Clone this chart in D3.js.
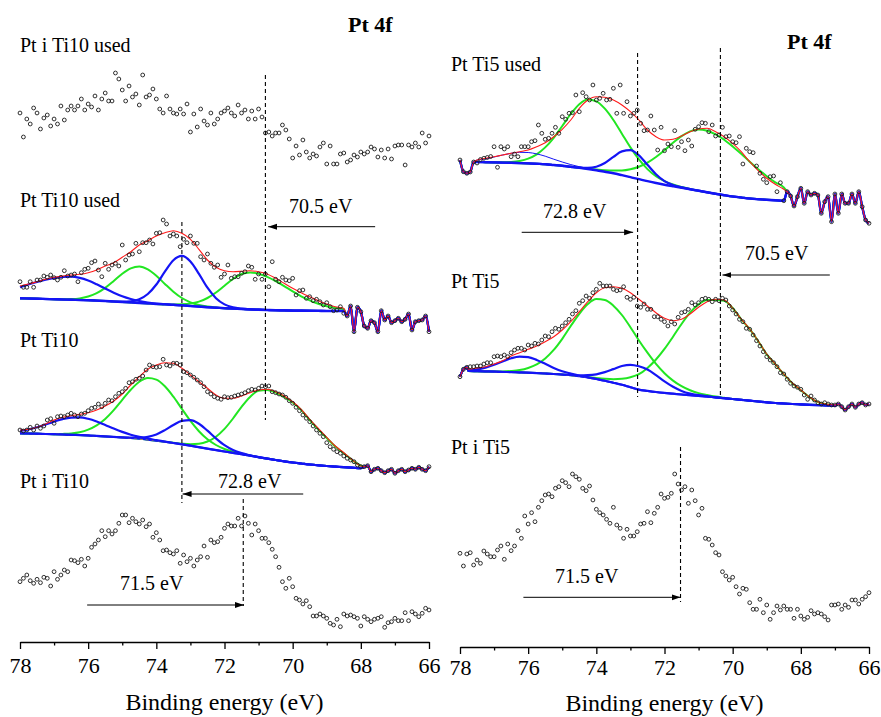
<!DOCTYPE html>
<html><head><meta charset="utf-8">
<script src="https://cdn.jsdelivr.net/npm/d3@7"></script>
<style>body{margin:0;background:#fff}svg{display:block}text{font-family:"Liberation Serif","Times New Roman",serif;fill:#000}</style>
</head><body><svg id="c" width="881" height="717"></svg>
<script>
// ---------------- DATA ----------------
const E0 = 78, dE = 0.1;           // acquisition grid (eV), 121 points 78 -> 66
const fitStep = 0.25;              // grid of fitted curves (eV)
const xTicks = [78,76,74,72,70,68,66];
const xMinor = [77,75,73,71,69,67];
const axisTitle = "Binding energy (eV)";
const coreLevel = "Pt 4f";
const panelLabels = ["Pt i Ti10 used","Pt Ti10 used","Pt Ti10","Pt i Ti10","Pt Ti5 used","Pt Ti5","Pt i Ti5"];
const refLineEV = [70.8, 73.25, 71.45, 72.79, 70.36, 71.53];
const shiftLabels = ["70.5 eV","72.8 eV","71.5 eV","72.8 eV","70.5 eV","71.5 eV"];
const arrowFromEV = [67.58, 69.69, 76.03, 76.19, 67.15, 76.14];
const arrowToEV = [70.72, 73.23, 71.43, 72.92, 70.30, 71.53];

// measured spectra (a.u.)
const spPtiTi10used = [62,38,56,51,67,62,46,57,60,49, 56,51,69,55,65,69,65,69,76,65, 71,68,79,65,76,82,74,74,102,96, 85,74,89,78,81,70,100,78,80,86, 76,66,62,79,66,62,61,66,61,71, 43,61,48,66,54,50,62,51,56,62, 64,67,62,59,70,62,65,56,64,56, 66,58,42,43,39,42,42,50,45,36, 17,29,20,35,23,17,21,19,28,32, 11,29,11,11,21,22,13,15,20,18, 23,21,23,28,26,18,25,17,26,16, 29,30,30,10,30,28,32,28,42,32, 39];
const spPtTi10used = [53.3,47.7,47.7,53.3,47.7,55,55,59,57.7,60, 57.3,55,57.7,64.3,59,60,61,53.3,62.3,65.7, 66.7,72.3,74,65,58.3,71.7,65.7,70,71.7,69, 90,75,80,81,91.7,83.3,92.3,92.3,95,91, 101.7,102.3,115,111,99,101,99,88.3,95.7,92.3, 99,91.7,91.7,78.3,75,81,71.7,67.7,70,57.7, 61,70,56.7,58.3,58.3,61.7,63.3,69,67.7,55.7, 61,55.7,61,48.3,73.3,55.7,53.3,57.7,55,54.3, 56.7,40,44.3,45,36.7,38.3,34.3,35.7,33.3,30, 32.3,28.3,24.3,25,28.3, 21.7,19,29,3.3,27.7,23.3,9,6.7,14.3,12.3, 3.3,24.3,15,19,12.3,14.3,16.7,13.3,15.7,21, 5,13.3,14.3,15,19,3.3];
const spPtTi10 = [50,49,50,52.7,50,54,51.7,54,60,61.3, 56.7,63.3,64,63.3,65,66.7,65,63.3,66,66.7, 69.3,71.7,72.7,76,73.3,76.7,80,79.3,83.3,86.7, 88.3,91.7,97.3,98.3,100.7,101.7,104,110,115,113.3, 112.7,113.3,120.7,115,114,116.7,116.7,115,108.3,107.3, 105,102.7,100,97.3,93.3,88.3,86,83.3,81.7,80.7, 83.3,82.3,82.7,84,85,86,87.3,89.3,90.7,90, 91.7,94,93.3,94,88.3,87.3,86,85,82.7,79.3, 76.7,72.7,69.3,65,61.7,58.3,54,50,46.7,43.3, 37.3,33.3,30.7,28.3,26.7,24,21.7,20,18.3,15, 13.3,13.3,14.3, 8.3,10.7,11.7,9.3,7.3,9.3,10.7,6.7,9.3,10.7, 8.3,10,11.7,10.7,12.7,10.7,9.3,13.3];
const spPtiTi10 = [58.3,61.7,65,59.3,56.7,60.7,57.3,62.7,61.7,54, 68.3,60.7,65,70,68.3,80,79.3,77.3,80.7,74, 81.7,92.7,96,100,109.3,103.3,109.3,106,109.3,116.7, 125,125,117.3,121.7,118.3,116,120,113.3,116,102.7, 107.3,100,89.3,90,87.3,86,89.3,76.7,85,78.3, 81.7,74,80,83.3,94,82.7,100,97.3,98.3,102.7, 111.7,116,114,114,121.7,114,124,116.7,105,116, 109.3,101.7,101.7,97.3,90.7,83.3,72.7,58.3,51.7,61.7, 53.3,41.7,40,36,39.3,33.3,24,24,26,24, 21.7,16.7,15,20.7,13.3,26,24,25,23.3,21.7, 14,23.3,20.7,18.3,20.7,21.7,23.3,12.7,17.3,18.3, 21.7,19.3,19.3,27.3,19.3,28.3,26,23.3,26.7,31.7, 30];
const spPtTi5used = [70,58.3,56.7,58,68,67,70.5,71.7,72.5,73.5, 83.3,62.7,83.3,81,83.3,73.3,76,73.3,83.3,83.3, 83.3,88.3,89.3,105,96.7,90.7,91.7,96.7,102.7,96.7, 113.3,110.7,116.7,117.3,135,118.3,137.3,133.3,130,145, 130,131.7,136.7,130,130.7,141.7,116.7,145,116.7,128.3, 114,116.7,120,106.7,99.3,100,114,100,80,102.7, 79.3,86,83.3,99.3,82.7,88.3,79.3,90,84,100.7, 103.3,107.3,106.7,98.3,105,94,95,102.7,93.3,94, 88.3,87.3,93.3,66,81.7,78.3,77.3,64,56.7,50.7, 47.3,53.3,54,38.3,47.3, 29.3,38.3,34,24,33.3,41.7,26.7,38.3,35,36.7, 35,16.7,28.3,33.3,8.3,36,16.7,36,26.7,26.7, 36,26.7,38.3,23.3,10,6.7];
const spPtTi5 = [43.3,50.7,52.7,53.3,53.3,54,54,56,57.3,57.3, 63.3,64,63.3,65,63.3,67.3,70,71.7,71.7,70, 75,74,76.7,76,80,84,83.3,88.3,91.7,90.7, 94,97.3,100.7,106,109.3,116.7,119.3,124,121.7,127.3, 130.7,136.7,134,134,134,130.7,129.3,130,133.3,122.7, 120.7,122.7,114,112.7,116,110.7,110.7,103.3,103.3,100.7, 98.3,94,98.3,96,102.7,107.3,108.3,110.7,117.3,115, 117.3,120.7,121.7,120.7,118.3,120.7,119.3,121.7,120,114, 110,106,100.7,98.3,91.7,90.7,85,79.3,74,68.3, 63.3,60,57.3,53.3,47.3,46,40.7,36.7,34,32.7, 30.7,25,20.7,24,20,17.3,16,17.3,16,15, 15,16,13.3,10,13.3,16,12.7,16,17.3,15, 16];
const spPtiTi5 = [86.7,74,86,87.3,75,80,76.7,89,86,83.3, 83.3,90,94,80.7,96,89.3,94,109.3,101.7,124, 116,127.3,118.3,132.7,139.3,145,146,143.3,151.7,153.3, 159.3,157.3,153.3,166,163.3,160.7,151.7,149.3,154,140, 130.7,127.3,125,120.7,116.7,132.7,115,111.7,101.7,110.7, 104,104,108.3,116,116.7,128.3,117.3,126.7,132.7,146, 141.7,142.7,146.7,166,156,150,153.3,136.7,150,139.3, 125,131.7,101.7,100.7,95,87.3,85,68.3,64,60, 62.7,53.3,46,51.7,50.7,37.3,30.7,30.7,40.7,27.3, 35,20.7,27.3,34,30,34,30.7,30.7,21.7,30.7, 24,20.7,22.7,29.3,26,27.3,26,23.3,20,35, 35,36,30.7,35,32.7,40,40,36,40.7,43.3, 47.3];

// fitted curves: Pt Ti10 used (grid from 78 eV)
const bgTi10used = [36.7,36.5,36.3,36.0,35.8,35.5,35.3,35.0,34.8,34.4,34.0,33.5,33.0,32.5,32.0,31.5,31.0,30.6,30.2,29.6,29.0,28.4,27.8,27.3,26.8,26.4,26.0,25.6,25.3,25.0,24.8,24.6,24.4,24.3,24.2,24.1,24.0,24.0,24.0];
const b1Ti10used = [11.2,14.0,16.7,19.2,21.2,22.5,23,22.1,19.7,16.3,12.4,8.8,5.7,3.5,2.0,1.0,0.5,0.2,0,0,0,0,0,0,0,0,0,0,0,0,0,0,0,0,0,0,0,0,0];
const g1Ti10used = [0,0,0,0,0,0.2,0.6,1.6,3.7,7.4,13.1,20.5,28.3,34.2,36.5,34.2,28.3,20.5,13.1,7.4,3.7,1.6,0.6,0.2,0,0,0,0,0,0,0,0,0,0,0,0,0,0,0];
const b2Ti10used = [0,0,0,0,0,0,0,0,0,0,0,0,0.3,1.2,3.8,9.5,19.5,32.8,44.6,49.5,44.6,32.8,19.5,9.5,3.8,1.2,0.3,0,0,0,0,0,0,0,0,0,0,0,0];
const g2Ti10used = [0,0,0,0,0,0,0,0,0,0,0,0,0,0,0,0,0,0,0.4,1.1,2.4,5.0,9.2,15.2,22.5,29.6,35.0,37,36.0,33.2,29.2,24.3,19.2,14.4,10.4,7.1,4.7,2.9,1.8];
const envTi10used = [49,51,53.3,55.7,57.7,59,60,60.7,62.3,65,69,72.3,77.7,83.3,90,94.3,99,102.3,104.3,101.7,95.7,85.7,75,67.7,64.3,63.3,63.7,64.3,63.3,61,56.7,51.7,46.7,42.3,38.3,34.3,31,28.3,26.7];
// Pt Ti10 (grid from 78 eV)
const bgTi10 = [46.7,46.5,46.3,46.0,45.8,45.5,45.2,44.9,44.6,44.1,43.6,43.1,42.6,41.9,41.2,40.3,39.3,38.2,37.0,35.7,34.3,32.8,31.3,29.9,28.5,27.1,25.8,24.3,22.8,21.4,20.0,18.7,17.5,16.5,15.5,14.7,14.0,13.4,12.8,12.3,11.8];
const b1Ti10 = [2.4,4.1,6.5,9.5,12.6,15.4,17.2,17.7,16.6,14.4,11.4,8.3,5.5,3.4,1.9,1.0,0.5,0.2,0,0,0,0,0,0,0,0,0,0,0,0,0,0,0,0,0,0,0,0,0,0,0];
const g1Ti10 = [0,0,0,0,0,0.6,1.4,2.9,5.8,10.6,17.5,26.8,37.6,48.3,57.0,61.6,61.1,55.5,46.3,35.4,24.8,16.0,9.4,5.1,2.5,1.2,0.5,0.2,0,0,0,0,0,0,0,0,0,0,0,0,0];
const b2Ti10 = [0,0,0,0,0,0,0,0,0,0,0,0,0,0.4,1.1,2.9,6.3,11.7,18.0,23.4,25.5,23.4,18.0,11.7,6.3,2.9,1.1,0.4,0,0,0,0,0,0,0,0,0,0,0,0,0];
const g2Ti10 = [0,0,0,0,0,0,0,0,0,0,0,0,0,0,0,0,0,0,0.2,0.6,1.5,3.4,7.2,13.4,22.6,34.4,47.4,58.8,66.5,68.5,67.5,64.5,60,53.5,44.5,36,28,20,14,7.5,2.5];
const envTi10 = [50,50.7,52.7,56,60,62.7,64.3,65.7,67.3,70,74,79,86,95,103.3,110.7,115,117.3,116.7,111.7,105,98.3,91.7,85,81.7,81.7,84,87.3,90,90.7,88.3,84,78.3,70.7,60.7,51.7,42.7,34,27.3,20,14];
// Pt Ti5 used (grid from 77.5 eV)
const bgTi5used = [68.0,67.8,67.6,67.4,67.2,66.9,66.6,66.2,65.8,65.0,64.2,63.2,62.2,61.0,59.7,58.2,56.7,54.8,52.8,50.8,48.8,47.0,45.3,43.8,42.3,40.8,39.3,37.7,36.2,34.8,33.5,32.5,31.5,30.8,30.2,29.7,29.3];
const b1Ti5used = [1.9,3.4,5.4,7.6,9.5,10.8,10.9,9.9,8.0,5.8,3.8,2.2,1.1,0.5,0.2,0,0,0,0,0,0,0,0,0,0,0,0,0,0,0,0,0,0,0,0,0,0];
const g1Ti5used = [0,0,0,0.4,0.9,2.2,4.8,9.5,16.8,27.2,39.8,52.8,63.6,69.5,69.0,63.1,53.3,41.5,29.8,19.8,12.1,6.8,3.6,1.7,0.8,0.3,0,0,0,0,0,0,0,0,0,0,0];
const b2Ti5used = [0,0,0,0,0,0,0,0,0,0,0,0,0.3,1.2,3.6,8.8,16.4,23.8,27,23.8,16.4,8.8,3.6,1.2,0.3,0,0,0,0,0,0,0,0,0,0,0,0];
const g2Ti5used = [0,0,0,0,0,0,0,0,0,0,0,0,0,0.3,0.7,1.5,2.7,4.7,7.9,12.4,18.5,26.0,34.5,43.4,51.5,57.8,61.2,61.5,59.4,55.5,50.1,43.7,36.8,30.0,23.6,18.0,13.2];
const envTi5used = [70,71.7,73.3,75,76.7,78.3,80,83.3,87.3,93.3,100.7,110,121.7,130,133.3,132.7,130,125,118.3,110,100,93.3,90,90.7,94,98.3,101,101.7,98.3,93.3,86.7,78.3,68.3,59.3,51.7,45.7,40.7];
// Pt Ti5 (grid from 77.75 eV)
const bgTi5 = [49.0,48.8,48.6,48.4,48.1,47.9,47.6,47.3,46.9,46.5,46.0,45.4,44.8,43.7,42.5,41.0,39.3,37.3,35.2,32.7,30.3,29.1,28.0,27.1,26.3,25.5,24.8,24.1,23.5,22.6,21.8,21.0,20.2,19.3,18.5,17.7,17.0,16.5,16.0,15.6,15.2,14.9,14.6,14.3];
const b1Ti5 = [0.8,1.8,3.8,6.8,10.4,13.8,15.8,15.6,13.2,9.7,6.1,3.3,1.6,0.6,0.2,0,0,0,0,0,0,0,0,0,0,0,0,0,0,0,0,0,0,0,0,0,0,0,0,0,0,0,0,0];
const g1Ti5 = [0,0,0,0.2,0.5,1.1,2.3,4.7,8.7,15.1,24.1,35.8,49.2,62.4,73.4,79.9,80.7,77.0,69.8,60.1,49.2,38.2,28.1,19.7,13.1,8.3,4.9,2.8,1.5,0.8,0.4,0,0,0,0,0,0,0,0,0,0,0,0,0];
const b2Ti5 = [0,0,0,0,0,0,0,0,0,0,0,0,0.3,0.9,2.3,4.7,8.6,13.6,18.8,22.5,23.4,21.3,16.8,11.5,6.9,3.6,1.6,0.7,0.2,0,0,0,0,0,0,0,0,0,0,0,0,0,0,0];
const g2Ti5 = [0,0,0,0,0,0,0,0,0,0,0,0,0,0.2,0.5,1,1.9,3.5,6,10,15.5,23,32.5,44,57,70.5,82.5,91.5,96.5,97.5,97.5,91,80.5,71.5,60.3,48,38.8,29.3,20.8,14.2,7.6,3,1.2,0.5];
const envTi5 = [50.7,52,53.3,56,59.3,64,67.3,70.7,74,78.3,83.3,90,98.3,108.3,118.3,127.3,132.3,133.3,131.7,127.3,120.7,114,107.3,101.7,99.3,100.7,106,112.7,118.3,120.7,120,112,101,91,79,66,56,46,37,30,23,18,16,15];

// ---------------- DRAWING ----------------
const GREEN = "#22e622", BLUE = "#1414f5", RED = "#ff1a1a", YEL = "#e3c400";
const svg = d3.select("#c");
const xL = d3.scaleLinear().domain([78,66]).range([20,429]);
const xR = d3.scaleLinear().domain([78,66]).range([460,869]);

const panels = [
  {data: spPtiTi10used, x: xL, base: 175},
  {data: spPtTi10used, x: xL, base: 335, fit: {start: 78, bg: bgTi10used, green: [g1Ti10used, g2Ti10used], blue: [b1Ti10used, b2Ti10used], env: envTi10used, lead: 0, tail: 96, striped: false, thin: -1}},
  {data: spPtTi10, x: xL, base: 480, fit: {start: 78, bg: bgTi10, green: [g1Ti10, g2Ti10], blue: [b1Ti10, b2Ti10], env: envTi10, lead: 0, tail: 101, striped: true, thin: -1}},
  {data: spPtiTi10, x: xL, base: 640},
  {data: spPtTi5used, x: xR, base: 230, fit: {start: 77.5, bg: bgTi5used, green: [g1Ti5used, g2Ti5used], blue: [b1Ti5used, b2Ti5used], env: envTi5used, lead: 5, tail: 96, striped: false, thin: 0}},
  {data: spPtTi5, x: xR, base: 420, fit: {start: 77.75, bg: bgTi5, green: [g1Ti5, g2Ti5], blue: [b1Ti5, b2Ti5], env: envTi5, lead: 3, tail: 111, striped: true, thin: -1}},
  {data: spPtiTi5, x: xR, base: 640}
];

panels.forEach(p => {
  const y = d3.scaleLinear().domain([0, 200]).range([p.base, p.base - 200]);
  const g = svg.append("g");
  const pts = p.data.map((v, i) => [E0 - i * dE, v]);
  const line = d3.line().x(d => p.x(d[0])).y(d => y(d[1])).curve(d3.curveMonotoneX);
  if (p.fit) {
    const f = p.fit;
    const lead = pts.slice(0, f.lead), tail = pts.slice(f.tail);
    const withTrace = arr => lead.concat(arr.map((v, k) => [f.start - k * fitStep, v]), tail);
    const abs = c => c.map((v, k) => f.bg[k] + v);
    const draw = (arr, col, w, dash) => g.append("path").attr("d", line(withTrace(arr)))
      .attr("fill", "none").attr("stroke", col).attr("stroke-width", w)
      .attr("stroke-linejoin", "round").attr("stroke-dasharray", dash || null);
    f.green.forEach(c => draw(abs(c), GREEN, 2));
    draw(f.bg, BLUE, f.striped ? 2 : 2.4);
    if (f.striped) draw(f.bg, YEL, 1.1, "3,3");
    f.blue.forEach((c, ci) => draw(abs(c), BLUE, ci === f.thin ? 1 : 2.2));
    draw(f.env, RED, 1.1);
  }
  g.selectAll("circle").data(pts).join("circle")
    .attr("cx", d => p.x(d[0])).attr("cy", d => y(d[1])).attr("r", 1.9)
    .attr("fill", "none").attr("stroke", "#1a1a1a").attr("stroke-width", 0.9);
});

// reference dashed lines
const refSide = [0,0,0,1,1,1];
const refY = [[75,420],[222,503],[499,606],[53,397],[48,395],[447,602]];
refLineEV.forEach((e, i) => {
  const x = refSide[i] ? xR : xL;
  svg.append("line").attr("x1", x(e)).attr("x2", x(e)).attr("y1", refY[i][0]).attr("y2", refY[i][1])
    .attr("stroke", "#000").attr("stroke-width", 1.1).attr("stroke-dasharray", "4,3");
});

// arrows
svg.append("defs").append("marker").attr("id", "ah").attr("markerUnits", "userSpaceOnUse")
  .attr("markerWidth", 10).attr("markerHeight", 7).attr("refX", 9).attr("refY", 3).attr("orient", "auto")
  .append("path").attr("d", "M0,0 L9,3 L0,6 Z").attr("fill", "#000");
const arrSide = [0,0,0,1,1,1];
const arrY = [226.7, 494, 605, 232.3, 275, 597.3];
const labPos = [[289,213],[218,488],[120,590],[543,218],[745,260],[555,583]];
shiftLabels.forEach((t, i) => {
  const x = arrSide[i] ? xR : xL;
  svg.append("line").attr("x1", x(arrowFromEV[i])).attr("x2", x(arrowToEV[i])).attr("y1", arrY[i]).attr("y2", arrY[i])
    .attr("stroke", "#000").attr("stroke-width", 1).attr("marker-end", "url(#ah)");
  svg.append("text").attr("x", labPos[i][0]).attr("y", labPos[i][1]).attr("font-size", 20).text(t);
});

// panel labels
const plPos = [[20,52],[20,207],[20,347],[20,488],[451,71],[451,288],[451,454]];
panelLabels.forEach((t, i) => svg.append("text").attr("x", plPos[i][0]).attr("y", plPos[i][1]).attr("font-size", 20).text(t));
[[348,32],[787,49]].forEach(p => svg.append("text").attr("x", p[0]).attr("y", p[1]).attr("font-size", 22).attr("font-weight", "bold").text(coreLevel));

// axes
function drawAxis(x, yPos, pad, titleY) {
  const gA = svg.append("g").attr("transform", `translate(0,${yPos})`)
    .call(d3.axisBottom(x).tickValues(xTicks).tickSize(7).tickSizeOuter(0).tickPadding(pad).tickFormat(d3.format("d")));
  gA.select(".domain").attr("stroke-width", 1.3);
  gA.selectAll(".tick line").attr("stroke-width", 1.3);
  gA.selectAll("text").attr("font-family", "Liberation Serif").attr("font-size", 22).attr("fill", "#000");
  svg.append("g").attr("transform", `translate(0,${yPos})`)
    .call(d3.axisBottom(x).tickValues(xMinor).tickSize(3.5).tickFormat(""))
    .call(g => g.select(".domain").remove())
    .selectAll(".tick line").attr("stroke-width", 1.3);
  const r = x.range();
  svg.append("text").attr("x", (r[0] + r[1]) / 2).attr("y", titleY).attr("text-anchor", "middle")
    .attr("font-size", 24).text(axisTitle);
}
drawAxis(xL, 642, 8.4, 710);
drawAxis(xR, 647, 5.4, 711);
</script></body></html>
